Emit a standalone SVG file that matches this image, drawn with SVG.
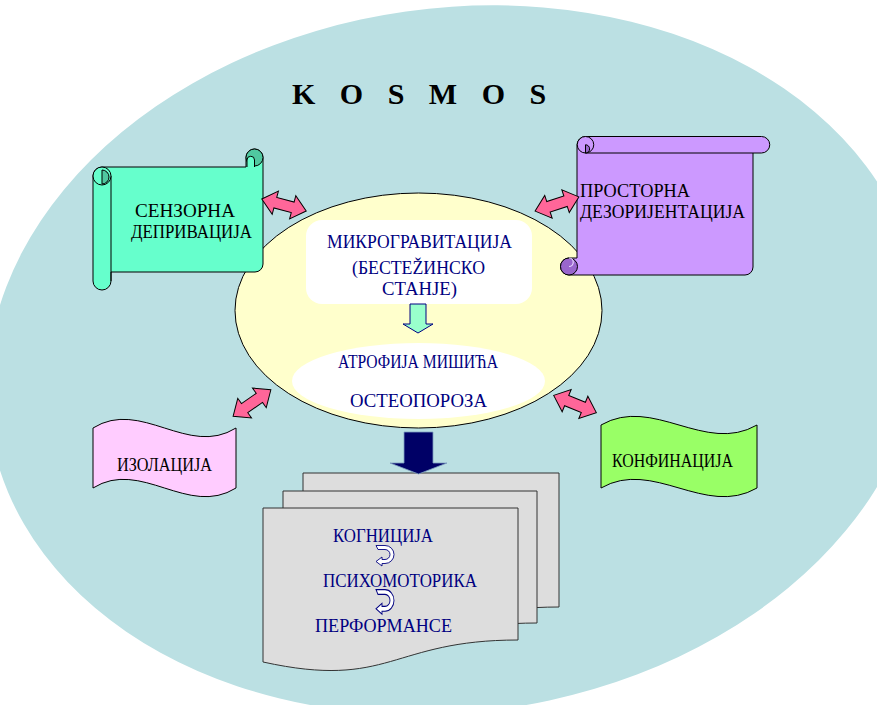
<svg xmlns="http://www.w3.org/2000/svg" xmlns:xlink="http://www.w3.org/1999/xlink" width="877" height="705" viewBox="0 0 877 705">
<style>
.t{font-family:"Liberation Serif","Times New Roman",serif;font-size:19px;}
.blk{fill:#000;}
.nv{fill:#000080;}
.ln{stroke:#000;stroke-width:1;}
.pink{fill:#FF6699;stroke:#000;stroke-width:1;stroke-linejoin:miter;}
.doc{fill:#DDDDDD;stroke:#333;stroke-width:1;}
.ut{fill:#fff;stroke:#000080;stroke-width:0.9;}
</style>
<defs>
<path id="dbl" d="M -23 0 L -9 -12 L -9 -5.5 L 9 -5.5 L 9 -12 L 23 0 L 9 12 L 9 5.5 L -9 5.5 L -9 12 Z"/>
<path id="uturn" d="M 1 0.5 H 10 A 9 9 0 0 1 10 18.5 H 7 V 21 L 1 16.5 L 7 12 V 14.5 H 10 A 5 5 0 0 0 10 4.5 H 3 Z"/>
</defs>
<rect width="877" height="705" fill="#fff"/>
<g id="kosmos-bg">
<ellipse cx="455" cy="360" rx="470" ry="352" transform="rotate(-8 455 360)" fill="#BBE0E3"/>
<text x="292" y="104" font-family="Liberation Serif, Times New Roman, serif" font-size="30" font-weight="bold" letter-spacing="8.5" fill="#000">K O S M O S</text>
</g>
<g id="node-center">
<ellipse cx="418.5" cy="310.5" rx="183.5" ry="117.5" fill="#FFFFCC" class="ln"/>
<rect x="306" y="220" width="226" height="84" rx="16" fill="#fff"/>
<text class="t nv" x="327" y="248" textLength="185" lengthAdjust="spacingAndGlyphs">МИКРОГРАВИТАЦИЈА</text>
<text class="t nv" x="352" y="274" textLength="133" lengthAdjust="spacingAndGlyphs">(БЕСТЕŽИНСКО</text>
<text class="t nv" x="382" y="295" textLength="75" lengthAdjust="spacingAndGlyphs">СТАНЈЕ)</text>
<ellipse cx="418.5" cy="381" rx="126.5" ry="38" fill="#fff"/>
<text class="t nv" x="338" y="368" textLength="160" lengthAdjust="spacingAndGlyphs">АТРОФИЈА МИШИЋА</text>
<text class="t nv" x="350" y="407" textLength="137" lengthAdjust="spacingAndGlyphs">ОСТЕОПОРОЗА</text>
</g>
<g id="node-senzorna">
<path d="M 93 176 A 9 9 0 0 1 102 167 H 246 V 157.5 A 8.5 8.5 0 0 1 263 157.5 V 264 A 8 8 0 0 1 255 272 H 111 V 281 A 9 9 0 0 1 93 281 Z" fill="#66FFCC" class="ln"/>
<line x1="111" y1="176" x2="111" y2="281" class="ln"/>
<circle cx="254.5" cy="157.5" r="8.5" fill="#50C8A0" class="ln"/>
<path d="M 247 167 V 160 A 3.75 3.75 0 0 1 254.5 160 V 167" fill="#66FFCC" class="ln"/>
<circle cx="102" cy="176" r="9" fill="#66FFCC" class="ln"/>
<path d="M 102 170 A 7 7 0 0 1 102 184 Z" fill="#50C8A0" class="ln"/>
<text class="t blk" x="135" y="217" textLength="100" lengthAdjust="spacingAndGlyphs">СЕНЗОРНА</text>
<text class="t blk" x="131" y="238" textLength="121" lengthAdjust="spacingAndGlyphs">ДЕПРИВАЦИЈА</text>
</g>
<g id="node-prostorna">
<path d="M 577 145 A 8.5 8.5 0 0 1 585.5 136.5 H 761.5 A 8.25 8.25 0 0 1 761.5 153 H 753 V 267 A 8 8 0 0 1 745 275 H 569 A 8.5 8.5 0 0 1 569 258 H 577 Z" fill="#CC99FF" class="ln"/>
<line x1="585.5" y1="153" x2="753" y2="153" class="ln"/>
<circle cx="585.5" cy="144.75" r="8.25" fill="#CC99FF" class="ln"/>
<path d="M 585.5 144.75 A 4.1 4.1 0 0 1 585.5 153 Z" fill="#9966CC" class="ln"/>
<circle cx="569" cy="266.5" r="8.5" fill="#9966CC" class="ln"/>
<path d="M 569 258 A 4.25 4.25 0 0 1 569 266.5" fill="none" stroke="#E8D8FF" stroke-width="1.2"/>
<text class="t blk" x="580" y="197" font-size="18" textLength="110" lengthAdjust="spacingAndGlyphs">ПРОСТОРНА</text>
<text class="t blk" x="580" y="218" font-size="18" textLength="165" lengthAdjust="spacingAndGlyphs">ДЕЗОРИЈЕНТАЦИЈА</text>
</g>
<g id="node-izolacija">
<path d="M 93 428 C 141 398 188 458 236 428 V 488 C 188 518 141 458 93 488 Z" fill="#FFCCFF" class="ln"/>
<text class="t blk" x="117" y="471" textLength="95" lengthAdjust="spacingAndGlyphs">ИЗОЛАЦИЈА</text>
</g>
<g id="node-konfinacija">
<path d="M 601 425 C 653 395 705 455 757 425 V 488 C 705 518 653 458 601 488 Z" fill="#99FF66" class="ln"/>
<text class="t blk" x="612" y="467" textLength="121" lengthAdjust="spacingAndGlyphs">КОНФИНАЦИЈА</text>
</g>
<g id="node-docs">
<path d="M 303 473 H 559 V 607 C 431 607 431 658 303 629 Z" class="doc"/>
<path d="M 283 491 H 537 V 623 C 410 623 410 673 283 645 Z" class="doc"/>
<path d="M 263 508 H 518 V 640 C 390.5 640 390.5 690 263 662 Z" class="doc"/>
<text class="t nv" x="333" y="542" textLength="100" lengthAdjust="spacingAndGlyphs">КОГНИЦИЈА</text>
<text class="t nv" x="323" y="587" textLength="154" lengthAdjust="spacingAndGlyphs">ПСИХОМОТОРИКА</text>
<text class="t nv" x="315" y="632" textLength="137" lengthAdjust="spacingAndGlyphs">ПЕРФОРМАНСЕ</text>
</g>
<g id="connectors">
<use xlink:href="#dbl" class="pink" transform="translate(284 205) rotate(15)"/>
<use xlink:href="#dbl" class="pink" transform="translate(557 204) rotate(-18)"/>
<use xlink:href="#dbl" class="pink" transform="translate(252 403) rotate(-35)"/>
<use xlink:href="#dbl" class="pink" transform="translate(575 404) rotate(22)"/>
<path d="M 410 304 H 426 V 324 H 433 L 418 333 L 403 324 H 410 Z" fill="#99FFCC" stroke="#000080" stroke-width="1"/>
<path d="M 404 432 H 433 V 463 H 447 L 418.5 474 L 390 463 H 404 Z" fill="#000066" stroke="#7F9FC0" stroke-width="0.8"/>
<use xlink:href="#uturn" class="ut" transform="translate(375 545)"/>
<use xlink:href="#uturn" class="ut" transform="translate(375 589) scale(1 1.2)"/>
</g>
</svg>
